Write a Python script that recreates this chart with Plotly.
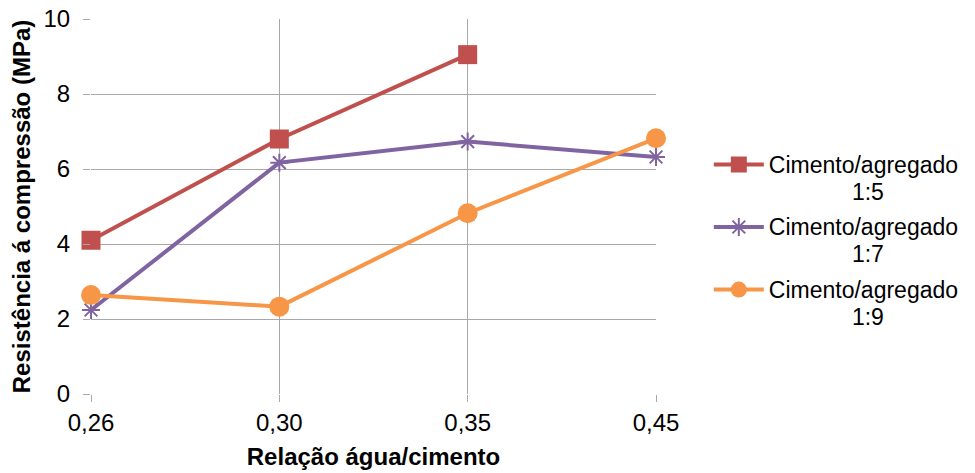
import plotly.graph_objects as go

# Water/cement ratio categories (comma decimal labels)
ratios = ["0,26", "0,30", "0,35", "0,45"]

# Compressive strength (MPa) for each cement/aggregate mix
mix_1_5 = [4.1, 6.8, 9.05, None]
mix_1_7 = [2.24, 6.17, 6.73, 6.32]
mix_1_9 = [2.64, 2.33, 4.82, 6.82]

series_name = "Cimento/agregado"
proportions = ["1:5", "1:7", "1:9"]

RED = "#C0504D"
PURPLE = "#8064A2"
ORANGE = "#F79646"
FONT = "Liberation Sans, Arial, sans-serif"

pad = "&nbsp;" * 13


def label(i):
    # two-line legend entry, second line centred under the first with padding
    return (f"<span style='font-size:23px'>{series_name}</span><br>"
            f"<span style='font-size:23px'>{pad}{proportions[i]}</span>")


fig = go.Figure()
fig.add_trace(go.Scatter(
    x=ratios, y=mix_1_5, mode="lines+markers", name=label(0),
    line=dict(color=RED, width=4),
    marker=dict(symbol="square", size=19, color=RED),
    legendgroup="a", cliponaxis=False,
))
fig.add_trace(go.Scatter(
    x=ratios, y=mix_1_7, mode="lines+markers", name=label(1),
    line=dict(color=PURPLE, width=4),
    marker=dict(symbol="asterisk-open", size=15,
                line=dict(color=PURPLE, width=2), color=PURPLE),
    legendgroup="b", cliponaxis=False,
))
fig.add_trace(go.Scatter(
    x=ratios, y=mix_1_9, mode="lines+markers", name=label(2),
    line=dict(color=ORANGE, width=4),
    marker=dict(symbol="circle", size=20, color=ORANGE),
    legendgroup="c", cliponaxis=False,
))

grid = "#A8A8A8"
fig.update_layout(
    width=975, height=473,
    margin=dict(l=91, r=319, t=19, b=79, autoexpand=False),
    paper_bgcolor="white", plot_bgcolor="white",
    font=dict(family=FONT, size=24, color="black"),
    showlegend=True,
    legend=dict(
        xref="container", yref="container",
        x=0.727, y=0.695, xanchor="left", yanchor="top",
        font=dict(family=FONT, size=21, color="black"),
        valign="top", tracegroupgap=5, itemwidth=50,
        bgcolor="rgba(0,0,0,0)",
    ),
    xaxis=dict(
        type="category", range=[0, 3],
        showgrid=True, gridcolor=grid, gridwidth=1,
        showline=False, zeroline=False,
        ticks="outside", ticklen=7, tickcolor=grid,
        tickfont=dict(size=24), ticklabelstandoff=0,
        automargin=False,
        title=dict(text="<b>Relação água/cimento</b>", font=dict(size=24), standoff=13),
    ),
    yaxis=dict(
        range=[0, 10], dtick=2, tick0=0,
        showgrid=True, gridcolor=grid, gridwidth=1,
        showline=False, zeroline=False,
        ticks="outside", ticklen=7, tickcolor=grid,
        tickfont=dict(size=24), ticklabelstandoff=8,
        automargin=False,
        title=dict(text="<b>Resistência á compressão (MPa)</b>", font=dict(size=24), standoff=6),
    ),
)

fig.write_html("out.html")
